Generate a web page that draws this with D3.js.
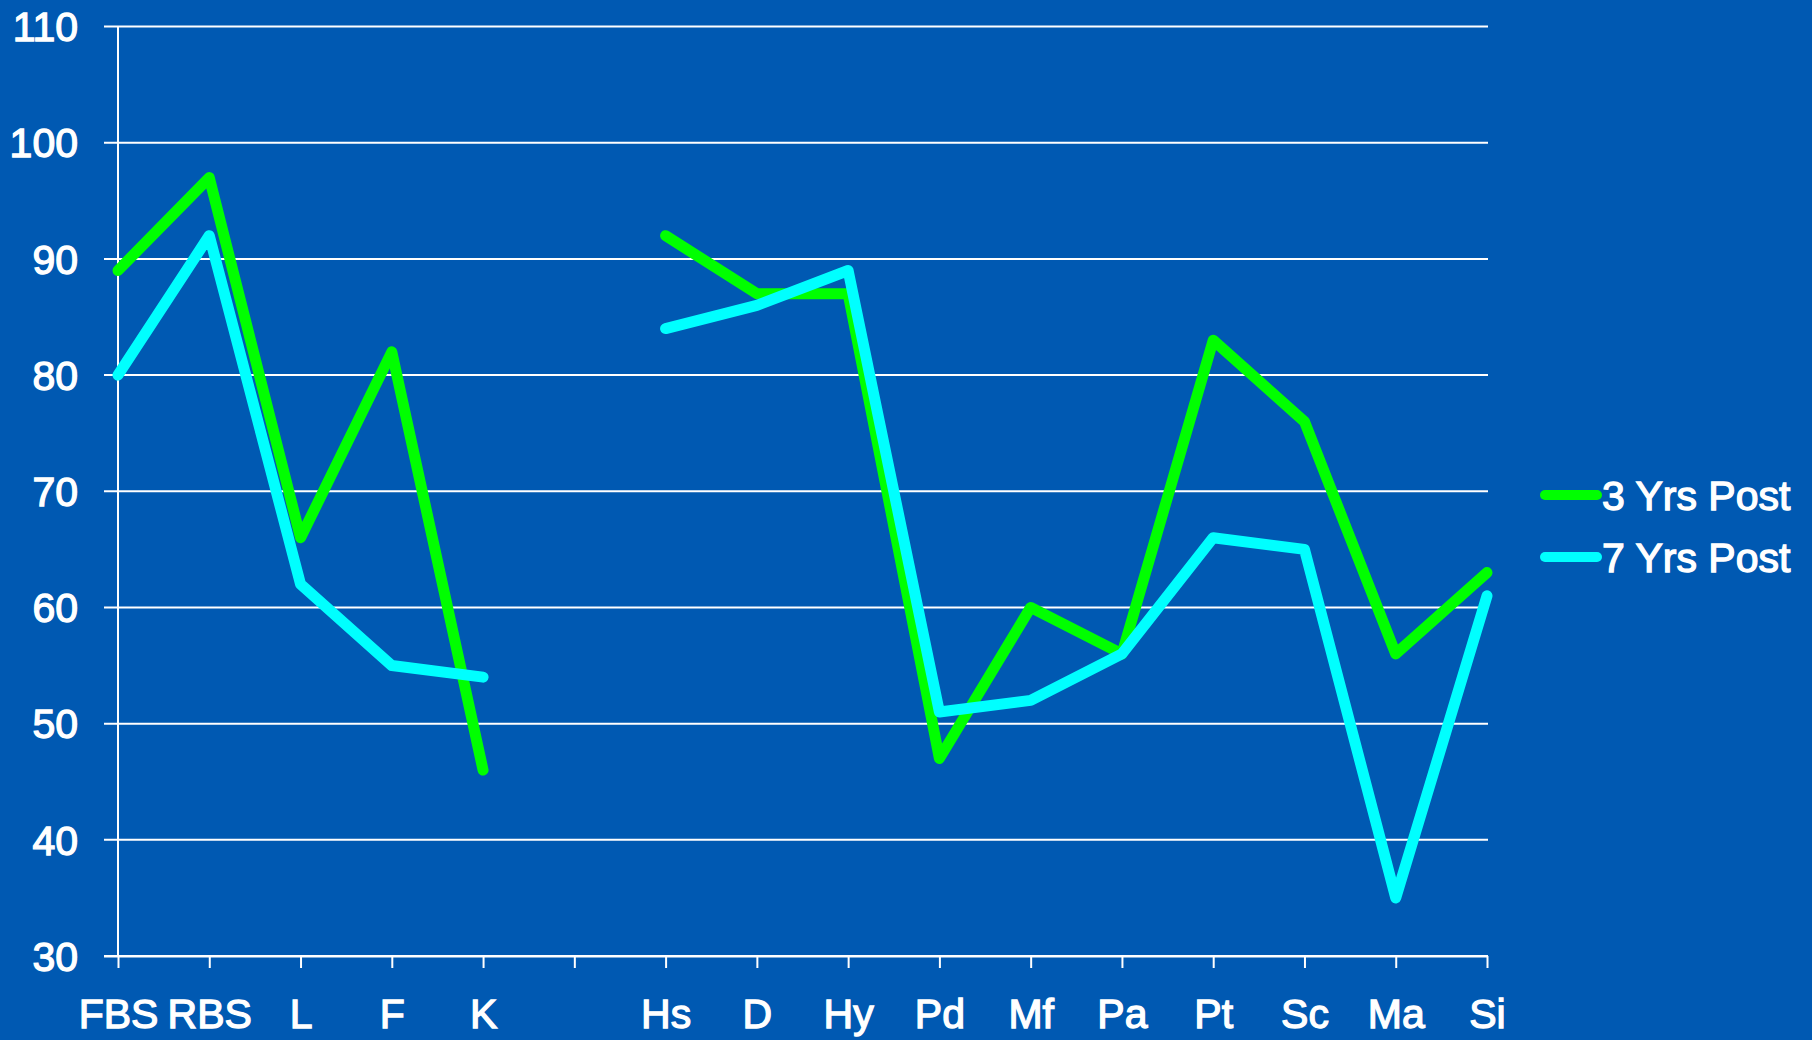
<!DOCTYPE html>
<html>
<head>
<meta charset="utf-8">
<script src="https://cdn.jsdelivr.net/npm/d3@7"></script>
<style>
  html, body { margin: 0; padding: 0; background: #0059b2; }
  svg { display: block; }
  text { font-family: "Liberation Sans", Arial, sans-serif; fill: #ffffff; stroke: #ffffff; stroke-width: 1.3px; }
</style>
</head>
<body>
<svg id="chart" width="1812" height="1040"></svg>
<script>
// Scale categories; the empty slot separates the two groups.
const categories = ["FBS", "RBS", "L", "F", "K", "", "Hs", "D", "Hy", "Pd", "Mf", "Pa", "Pt", "Sc", "Ma", "Si"];
const seriesNames = ["3 Yrs Post", "7 Yrs Post"];
const yrs3 = [89, 97, 66, 82, 46, null, 92, 87, 87, 47, 60, 56, 83, 76, 56, 63];
const yrs7 = [80, 92, 62, 55, 54, null, 84, 86, 89, 51, 52, 56, 66, 65, 35, 61];
const yTicks = [30, 40, 50, 60, 70, 80, 90, 100, 110];
const colors = ["#00ff00", "#00ffff"];

const svg = d3.select("#chart");
const W = 1812, H = 1040;
svg.append("rect").attr("width", W).attr("height", H).attr("fill", "#0059b2");

const plotLeft = 118, plotRight = 1487, plotTop = 26.5, plotBottom = 956;

// index-based keys so the blank category stays unique
const x = d3.scalePoint().domain(d3.range(categories.length)).range([plotLeft, plotRight]);
const y = d3.scaleLinear().domain([30, 110]).range([plotBottom, plotTop]);

// horizontal gridlines with short outward ticks on the left
const grid = svg.append("g");
grid.selectAll("line").data(yTicks).join("line")
  .attr("x1", plotLeft - 14).attr("x2", plotRight + 1)
  .attr("y1", d => y(d)).attr("y2", d => y(d))
  .attr("stroke", "#ffffff").attr("stroke-width", 2);

// y axis line
svg.append("line")
  .attr("x1", plotLeft).attr("x2", plotLeft)
  .attr("y1", y(110)).attr("y2", plotBottom)
  .attr("stroke", "#ffffff").attr("stroke-width", 2);

// y tick labels
svg.append("g").selectAll("text").data(yTicks).join("text")
  .attr("x", 78).attr("y", d => y(d))
  .attr("dy", "0.36em")
  .attr("text-anchor", "end")
  .attr("font-size", 41)
  .text(d => d);

// x axis with tick marks below
const xAxis = d3.axisBottom(x).tickSize(12).tickPadding(31).tickFormat(i => categories[i]);
const gx = svg.append("g").attr("transform", `translate(0,${plotBottom})`).call(xAxis);
gx.select(".domain").attr("stroke", "#ffffff").attr("stroke-width", 2)
  .attr("d", `M${plotLeft - 14},0.5H${plotRight + 1}`);
gx.selectAll(".tick line").attr("stroke", "#ffffff").attr("stroke-width", 2);
gx.selectAll(".tick text")
  .attr("fill", "#ffffff")
  .attr("font-size", 41)
  .attr("font-family", "\"Liberation Sans\", Arial, sans-serif");

// data lines
const line = d3.line()
  .defined(d => d != null)
  .x((d, i) => x(i))
  .y(d => y(d));

[yrs3, yrs7].forEach((vals, k) => {
  svg.append("path")
    .datum(vals)
    .attr("d", line)
    .attr("fill", "none")
    .attr("stroke", colors[k])
    .attr("stroke-width", 11)
    .attr("stroke-linejoin", "round")
    .attr("stroke-linecap", "round");
});

// legend
const legend = svg.append("g");
seriesNames.forEach((name, k) => {
  const ly = 495 + k * 62;
  legend.append("line")
    .attr("x1", 1545).attr("x2", 1597)
    .attr("y1", ly).attr("y2", ly)
    .attr("stroke", colors[k]).attr("stroke-width", 10)
    .attr("stroke-linecap", "round");
  legend.append("text")
    .attr("x", 1602).attr("y", ly)
    .attr("dy", "0.36em")
    .attr("font-size", 41)
    .text(name);
});
</script>
</body>
</html>
